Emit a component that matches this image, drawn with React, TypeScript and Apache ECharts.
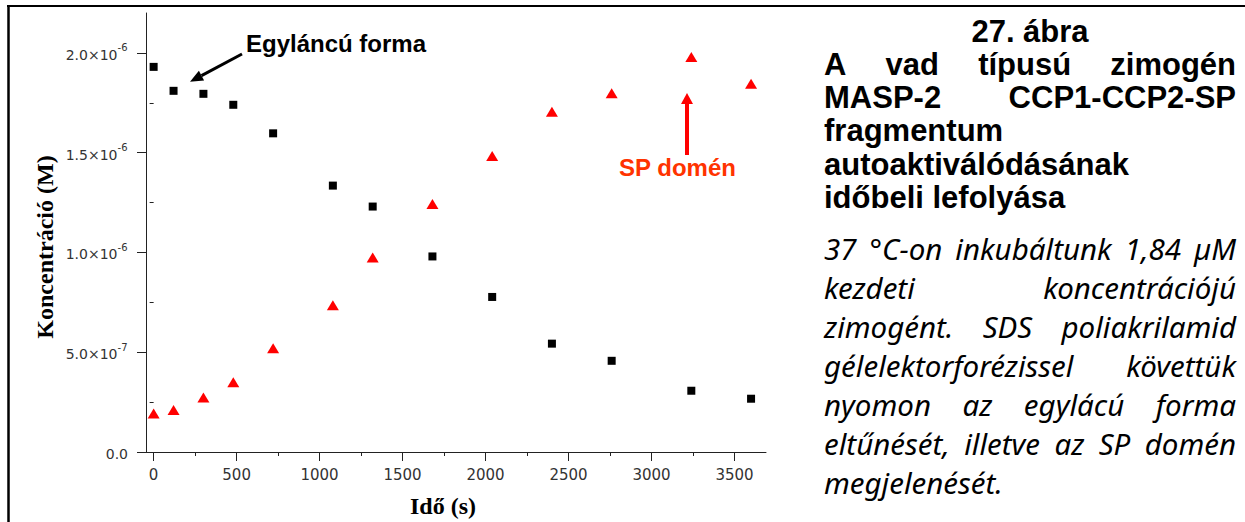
import React, { useEffect, useRef } from "react";
import * as echarts from "echarts";

const times = [0, 120, 300, 480, 720, 1080, 1320, 1680, 2040, 2400, 2760, 3240, 3600];
const singleChain = [1.93e-6, 1.81e-6, 1.795e-6, 1.74e-6, 1.597e-6, 1.335e-6, 1.23e-6, 0.98e-6, 0.777e-6, 0.543e-6, 0.457e-6, 0.307e-6, 0.267e-6];
const spDomain = [0.193e-6, 0.21e-6, 0.273e-6, 0.35e-6, 0.52e-6, 0.735e-6, 0.975e-6, 1.243e-6, 1.483e-6, 1.705e-6, 1.798e-6, 1.98e-6, 1.845e-6];

const xMajorTicks = [0, 500, 1000, 1500, 2000, 2500, 3000, 3500];
const xMinorTicks = [250, 750, 1250, 1750, 2250, 2750, 3250];
const yMajorTicks = [0, 5e-7, 1e-6, 1.5e-6, 2e-6];
const yMinorTicks = [2.5e-7, 7.5e-7, 1.25e-6, 1.75e-6];

const titleLines: { words: string[]; mode: "center" | "justify" | "left" }[] = [
  { words: ["27.", "ábra"], mode: "center" },
  { words: ["A", "vad", "típusú", "zimogén"], mode: "justify" },
  { words: ["MASP-2", "CCP1-CCP2-SP"], mode: "justify" },
  { words: ["fragmentum"], mode: "left" },
  { words: ["autoaktiválódásának"], mode: "left" },
  { words: ["időbeli", "lefolyása"], mode: "left" },
];
const bodyLines: { words: string[]; mode: "justify" | "left" }[] = [
  { words: ["37", "°C-on", "inkubáltunk", "1,84", "µM"], mode: "justify" },
  { words: ["kezdeti", "koncentrációjú"], mode: "justify" },
  { words: ["zimogént.", "SDS", "poliakrilamid"], mode: "justify" },
  { words: ["gélelektorforézissel", "követtük"], mode: "justify" },
  { words: ["nyomon", "az", "egylácú", "forma"], mode: "justify" },
  { words: ["eltűnését,", "illetve", "az", "SP", "domén"], mode: "justify" },
  { words: ["megjelenését."], mode: "left" },
];

function splitY(v: number): [string, string] {
  if (Math.abs(v) < 1e-15) return ["0.0", ""];
  const e = Math.floor(Math.log10(v) + 1e-9);
  const m = v / Math.pow(10, e);
  return [`${m.toFixed(1)}×10`, `${e}`];
}

export default function App() {
  const ref = useRef<HTMLDivElement>(null);
  useEffect(() => {
    if (!ref.current) return;
    const chart = echarts.init(ref.current, undefined, { renderer: "svg" });
    const ctx = document.createElement("canvas").getContext("2d")!;

    const X0 = 824;
    const X1 = 1236;
    const graphics: any[] = [];

    const txt = (text: string, x: number, y: number, o: any) => ({
      type: "text",
      x,
      y,
      style: {
        text,
        fill: o.fill || "#000",
        fontSize: o.fontSize,
        fontFamily: o.fontFamily,
        fontWeight: o.fontWeight || "normal",
        fontStyle: o.fontStyle || "normal",
        align: o.align || "left",
        textAlign: o.align || "left",
        verticalAlign: "middle",
        textVerticalAlign: "middle",
      },
      rotation: o.rotation || 0,
      z: 10,
    });

    const fontStr = (o: any, size: number) =>
      `${o.fontStyle || "normal"} ${o.fontWeight || "normal"} ${size}px ${o.fontFamily}`;

    const layoutLines = (
      lines: { words: string[]; mode: string }[],
      o: any,
      y0: number,
      dy: number
    ) => {
      ctx.font = fontStr(o, o.fontSize);
      lines.forEach((ln, i) => {
        const y = y0 + dy * i;
        if (ln.mode === "center") {
          graphics.push(txt(ln.words.join(" "), (X0 + X1) / 2, y, { ...o, align: "center" }));
        } else if (ln.mode === "left" || ln.words.length < 2) {
          graphics.push(txt(ln.words.join(" "), X0, y, o));
        } else {
          const widths = ln.words.map((w) => ctx.measureText(w).width);
          const total = widths.reduce((a, b) => a + b, 0);
          const gap = (X1 - X0 - total) / (ln.words.length - 1);
          let x = X0;
          ln.words.forEach((w, k) => {
            graphics.push(txt(w, x, y, o));
            x += widths[k] + gap;
          });
        }
      });
    };

    const axisFont = '"DejaVu Sans", sans-serif';
    const labelColor = "#333";
    const axisColor = "#222";
    const xMin = -46;
    const xMax = 3690;
    const yMin = 0;
    const yMax = 2.2e-6;

    chart.setOption({
      animation: false,
      backgroundColor: "#fff",
      grid: { left: 146, right: 479, top: 13, bottom: 70, outerBoundsMode: "none", containLabel: false },
      xAxis: [
        {
          type: "value",
          min: xMin,
          max: xMax,
          position: "bottom",
          axisLine: { show: true, onZero: false, lineStyle: { color: axisColor, width: 1 } },
          axisTick: { show: true, length: 9, customValues: xMajorTicks, lineStyle: { color: axisColor } },
          axisLabel: { show: false },
          splitLine: { show: false },
        },
        {
          type: "value",
          min: xMin,
          max: xMax,
          position: "bottom",
          axisLine: { show: false },
          axisTick: { show: true, length: 4, customValues: xMinorTicks, lineStyle: { color: axisColor } },
          axisLabel: { show: false },
          splitLine: { show: false },
        },
      ],
      yAxis: [
        {
          type: "value",
          min: yMin,
          max: yMax,
          position: "left",
          axisLine: { show: true, onZero: false, lineStyle: { color: axisColor, width: 1 } },
          axisTick: { show: true, length: 9, customValues: yMajorTicks, lineStyle: { color: axisColor } },
          axisLabel: { show: false },
          splitLine: { show: false },
        },
        {
          type: "value",
          min: yMin,
          max: yMax,
          position: "left",
          axisLine: { show: false },
          axisTick: { show: true, length: 4, customValues: yMinorTicks, lineStyle: { color: axisColor } },
          axisLabel: { show: false },
          splitLine: { show: false },
        },
      ],
      series: [
        {
          name: "Egyláncú forma",
          type: "scatter",
          xAxisIndex: 0,
          yAxisIndex: 0,
          symbol: "rect",
          symbolSize: 8,
          itemStyle: { color: "#000", opacity: 1 },
          data: times.map((t, i) => [t, singleChain[i]]),
        },
        {
          name: "SP domén",
          type: "scatter",
          xAxisIndex: 0,
          yAxisIndex: 0,
          symbol: "triangle",
          symbolSize: [12, 10],
          itemStyle: { color: "#ff0000", opacity: 1 },
          data: times.map((t, i) => [t, spDomain[i]]),
        },
      ],
    });

    const lblStyle = { fontSize: 15, fontFamily: axisFont, fill: labelColor };
    const supStyle = { fontSize: 10, fontFamily: axisFont, fill: labelColor };
    const axisY = chart.convertToPixel({ yAxisIndex: 0 }, 0) as number;
    xMajorTicks.forEach((v) => {
      const px = chart.convertToPixel({ xAxisIndex: 0 }, v) as number;
      graphics.push(txt(String(v), px, axisY + 23, { ...lblStyle, align: "center" }));
    });
    const axisX = chart.convertToPixel({ xAxisIndex: 0 }, xMin) as number;
    const rightEdge = axisX - 18;
    ctx.font = fontStr(supStyle, supStyle.fontSize);
    yMajorTicks.forEach((v) => {
      const py = chart.convertToPixel({ yAxisIndex: 0 }, v) as number;
      const [base, sup] = splitY(v);
      const sw = sup ? ctx.measureText(sup).width + 0.5 : 0;
      graphics.push(txt(base, rightEdge - sw, py + 2, { ...lblStyle, fontSize: 14, align: "right" }));
      if (sup) graphics.push(txt(sup, rightEdge - sw, py - 5, { ...supStyle, align: "left" }));
    });

    layoutLines(
      titleLines,
      { fontSize: 31, fontFamily: '"Liberation Sans", Arial, sans-serif', fontWeight: "bold" },
      31,
      33.3
    );

    const bodyBase: any = { fontFamily: '"Noto Sans", sans-serif', fontStyle: "italic" };
    ctx.font = fontStr(bodyBase, 100);
    const wRef = ctx.measureText("megjelenését.").width;
    let bodySize = Math.round((100 * 179) / wRef * 10) / 10;
    if (!isFinite(bodySize) || bodySize < 16 || bodySize > 30) bodySize = 24;
    layoutLines(bodyLines, { ...bodyBase, fontSize: bodySize }, 248, 39);

    graphics.push(
      txt("Egyláncú forma", 246, 43, {
        fontSize: 24,
        fontFamily: '"Liberation Sans", Arial, sans-serif',
        fontWeight: "bold",
      })
    );
    graphics.push(
      txt("SP domén", 619, 167, {
        fontSize: 24,
        fontFamily: '"Liberation Sans", Arial, sans-serif',
        fontWeight: "bold",
        fill: "#ff3300",
      })
    );
    graphics.push({
      type: "line",
      shape: { x1: 242, y1: 54, x2: 201.5, y2: 75.6 },
      style: { stroke: "#000", lineWidth: 3 },
      z: 10,
    });
    graphics.push({
      type: "polygon",
      shape: { points: [[190, 81.7], [204.1, 80.5], [198.9, 70.7]] },
      style: { fill: "#000" },
      z: 10,
    });
    graphics.push({
      type: "line",
      shape: { x1: 687, y1: 155, x2: 687, y2: 102 },
      style: { stroke: "#ff0000", lineWidth: 4 },
      z: 10,
    });
    graphics.push({
      type: "polygon",
      shape: { points: [[687, 93], [693, 104], [681, 104]] },
      style: { fill: "#ff0000" },
      z: 10,
    });

    graphics.push(
      txt("Koncentráció (M)", 45, 247, {
        fontSize: 24,
        fontFamily: '"Liberation Serif", "Times New Roman", serif',
        fontWeight: "bold",
        align: "center",
        rotation: Math.PI / 2,
      })
    );
    graphics.push(
      txt("Idő (s)", 443, 506, {
        fontSize: 24,
        fontFamily: '"Liberation Serif", "Times New Roman", serif',
        fontWeight: "bold",
        align: "center",
      })
    );

    graphics.push({
      type: "line",
      shape: { x1: 8.5, y1: 6, x2: 8.5, y2: 522 },
      style: { stroke: "#000", lineWidth: 2.5 },
      z: 10,
    });
    graphics.push({
      type: "line",
      shape: { x1: 7, y1: 6, x2: 1245, y2: 6 },
      style: { stroke: "#000", lineWidth: 2 },
      z: 10,
    });

    chart.setOption({ graphic: graphics });
    return () => chart.dispose();
  }, []);
  return (
    <div
      ref={ref}
      style={{ position: "absolute", left: 0, top: 0, width: 1245, height: 522, background: "#fff" }}
    />
  );
}
